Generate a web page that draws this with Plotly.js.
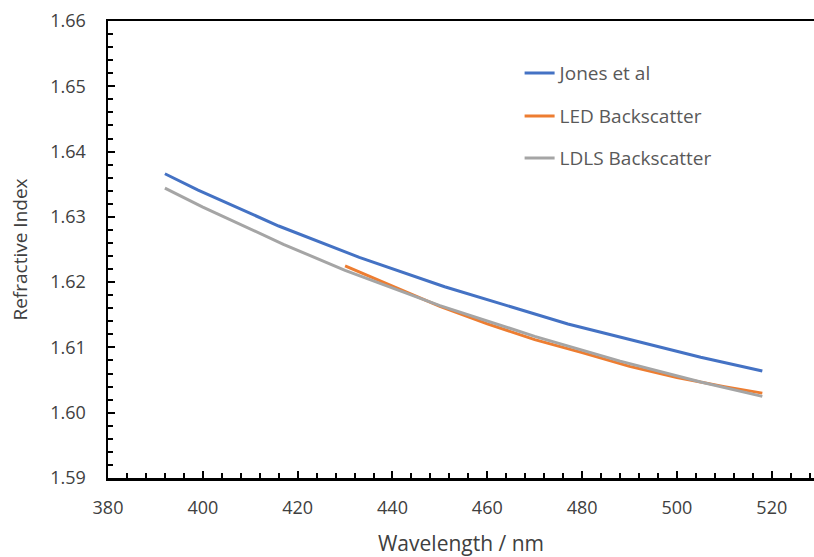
<!DOCTYPE html>
<html>
<head>
<meta charset="utf-8">
<script src="https://cdn.plot.ly/plotly-3.0.1.min.js"></script>
<style>html,body{margin:0;padding:0;background:#fff;}#chart{width:814px;height:557px;}</style>
</head>
<body>
<div id="chart"></div>
<script>
// Jones et al
const jonesX = [392, 399, 416, 433, 451, 477, 505, 518];
const jonesY = [1.6366, 1.6341, 1.6286, 1.6238, 1.6193, 1.6136, 1.6085, 1.6064];
// LED Backscatter
const ledX = [430, 440, 450, 460, 470, 480, 490, 500, 510, 518];
const ledY = [1.6225, 1.6194, 1.6163, 1.6136, 1.6112, 1.6092, 1.6071, 1.6054, 1.6040, 1.6030];
// LDLS Backscatter
const ldlsX = [392, 400, 417, 430, 450, 470, 488, 505, 518];
const ldlsY = [1.6344, 1.6315, 1.6258, 1.6218, 1.6164, 1.6117, 1.6079, 1.6047, 1.6025];

const names = ['Jones et al', 'LED Backscatter', 'LDLS Backscatter'];
const colors = ['#4472C4', '#ED7D31', '#A5A5A5'];

const FONT = 'Open Sans, Noto Sans, sans-serif';
const textColor = '#595959';
const axisText = '#404040';

const traces = [
  {x: jonesX, y: jonesY, name: names[0], mode: 'lines', line: {color: colors[0], width: 3}, legend: 'legend'},
  {x: ledX, y: ledY, name: names[1], mode: 'lines', line: {color: colors[1], width: 3}, legend: 'legend2'},
  {x: ldlsX, y: ldlsY, name: names[2], mode: 'lines', line: {color: colors[2], width: 3}, legend: 'legend3'}
];

function leg(y) {
  return {x: 0.583, y: y, xanchor: 'left', yanchor: 'middle',
    font: {family: FONT, size: 19, color: textColor},
    bgcolor: 'rgba(0,0,0,0)', borderwidth: 0};
}

const layout = {
  width: 814, height: 557,
  margin: {l: 108, r: 0, t: 21, b: 79},
  paper_bgcolor: '#ffffff', plot_bgcolor: '#ffffff',
  showlegend: true,
  legend: leg(0.886),
  legend2: leg(0.792),
  legend3: leg(0.700),
  xaxis: {
    range: [380, 528.9], dtick: 20, tick0: 380,
    showgrid: false, zeroline: false,
    showline: true, linecolor: '#000', linewidth: 2.5, mirror: true,
    ticks: 'inside', ticklen: 7, tickwidth: 2, tickcolor: '#000',
    minor: {dtick: 4, ticks: 'inside', ticklen: 5, tickwidth: 2, tickcolor: '#000', showgrid: false},
    tickfont: {family: FONT, size: 18, color: axisText},
    ticklabelstandoff: 12,
    title: {text: 'Wavelength / nm', font: {family: FONT, size: 21, color: axisText}, standoff: 18}
  },
  yaxis: {
    range: [1.59, 1.66], dtick: 0.01, tick0: 1.59, tickformat: '.2f',
    showgrid: false, zeroline: false,
    showline: true, linecolor: '#000', linewidth: 2.5,
    ticks: 'inside', ticklen: 7, tickwidth: 2, tickcolor: '#000',
    minor: {dtick: 0.002, ticks: 'inside', ticklen: 5, tickwidth: 2, tickcolor: '#000', showgrid: false},
    tickfont: {family: FONT, size: 18, color: axisText},
    ticklabelstandoff: 16,
    title: {text: 'Refractive Index', font: {family: FONT, size: 19, color: axisText}, standoff: 18}
  }
};

Plotly.newPlot('chart', traces, layout, {displayModeBar: false, staticPlot: true});
</script>
</body>
</html>
